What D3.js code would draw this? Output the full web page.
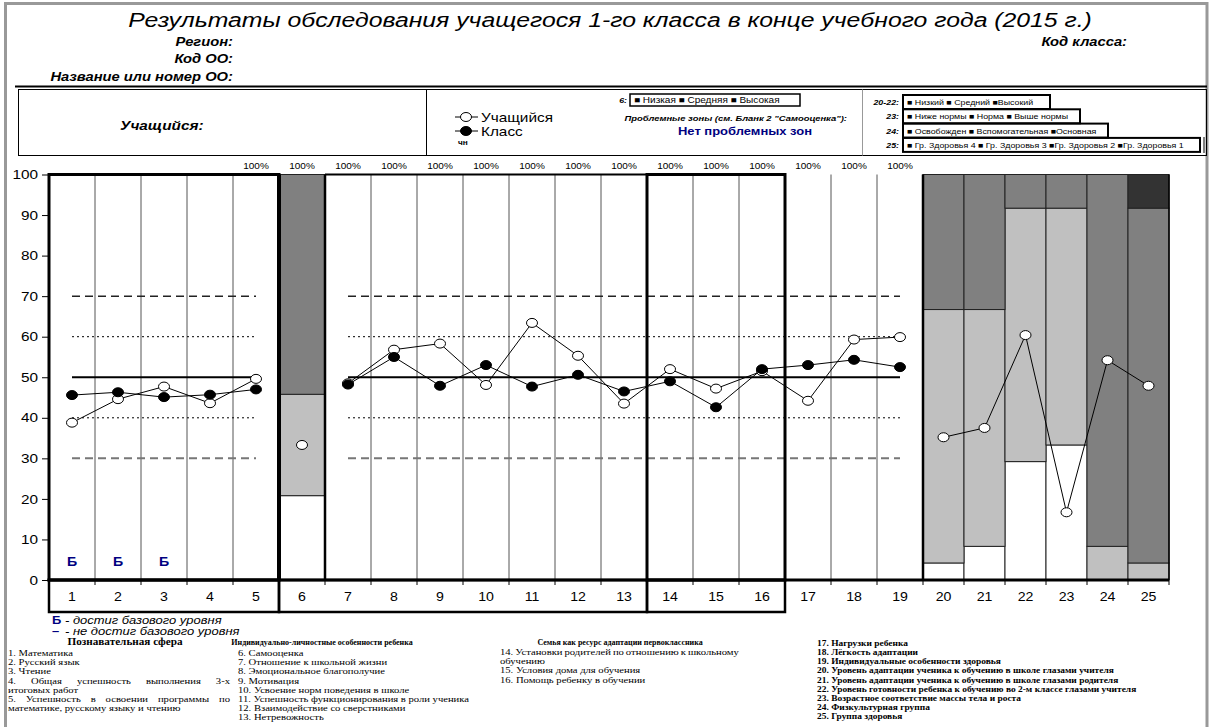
<!DOCTYPE html>
<html>
<head>
<meta charset="utf-8">
<script src="https://cdn.jsdelivr.net/npm/d3@7"></script>
<style>
  body { margin: 0; background: #fff; }
  svg { display: block; font-family: "Liberation Sans", Arial, sans-serif; }
  .serif { font-family: "Liberation Serif", "Times New Roman", serif; }
</style>
</head>
<body>
<svg id="chart" width="1213" height="727"></svg>
<script>
/* global d3 */

// ---- data ----
const categories = d3.range(1, 26).map(String);
const student = [38.8, 44.6, 47.7, 43.6, 49.6, 33.3, 48.5, 56.8, 58.3, 48.1, 63.4, 55.3, 43.5,
                 52.0, 47.2, 51.5, 44.2, 59.3, 59.9, 35.2, 37.5, 60.4, 16.7, 54.2, 47.9];
const klass = [45.6, 46.3, 45.1, 45.7, 47.0, null, 48.2, 55.0, 47.9, 53.0, 47.7, 50.6, 46.5,
               49.0, 42.6, 52.0, 53.0, 54.3, 52.5, null, null, null, null, null, null];
const baseMarks = ["Б", "Б", "Б", "", ""];
const pctLabels = ["", "", "", "", "100%", "100%", "100%", "100%", "100%", "100%", "100%", "100%",
                   "100%", "100%", "100%", "100%", "100%", "100%", "100%"];
// stacked percentage columns
const stackCols = [6, 20, 21, 22, 23, 24, 25];
const stackLow  = [20.8, 4.2, 8.3, 29.2, 33.3, 0, 0];
const stackMid  = [25.0, 62.5, 58.4, 62.5, 58.4, 8.3, 4.2];
const stackHigh = [54.2, 33.3, 33.3, 8.3, 8.3, 91.7, 87.5];
const stackTop  = [0, 0, 0, 0, 0, 0, 8.3];
const yTicks = d3.range(0, 101, 10);
const refLevels = [70, 60, 50, 40, 30];
const lineGroups = [[1, 5], [7, 19], [20, 25]];

const notes1 = ["1. Математика", "2. Русский язык", "3. Чтение",
  "4. Общая успешность выполнения 3-х|", "итоговых работ",
  "5. Успешность в освоении программы по|", "математике, русскому языку и чтению"];
const notes2 = ["6. Самооценка", "7. Отношение к школьной жизни", "8. Эмоциональное благополучие",
  "9. Мотивация", "10. Усвоение норм поведения в школе",
  "11. Успешность функционирования в роли ученика", "12. Взаимодействие со сверстниками",
  "13. Нетревожность"];
const notes3 = ["14. Установки родителей по отношению к школьному|", "обучению",
  "15. Условия дома для обучения", "16. Помощь ребенку в обучении"];
const notes4 = ["17. Нагрузки ребенка", "18. Лёгкость адаптации", "19. Индивидуальные особенности здоровья",
  "20. Уровень адаптации ученика к обучению в школе глазами учителя",
  "21. Уровень адаптации ученика к обучению в школе глазами родителя",
  "22. Уровень готовности ребенка к обучению во 2-м классе глазами учителя",
  "23. Возрастное соответствие  массы тела и роста", "24. Физкультурная группа", "25. Группа здоровья"];

// ---- setup ----
const svg = d3.select("#chart");
const K = 1.18; // text in the original is drawn a bit wide
const x = d3.scaleLinear().domain([0, 19, 25]).range([49, 923, 1169]);
const y = d3.scaleLinear().domain([0, 100]).range([580, 174.5]);
const cx = i => x(i - 0.5);
const greys = ["#ffffff", "#c0c0c0", "#808080", "#333333"];

// page frame
svg.append("path").attr("d", "M5.5,727 V3.5 H1207 V727")
  .attr("fill", "none").attr("stroke", "#999").attr("stroke-width", 3);

// ---- header ----
svg.append("text").attr("x", 610).attr("y", 27).attr("text-anchor", "middle")
  .style("font-size", "21px").style("font-style", "italic")
  .text("Результаты обследования учащегося 1-го класса в конце учебного года (2015 г.)");

const hdr = [["Регион:", 233, 46], ["Код ОО:", 233, 63], ["Название или номер ОО:", 233, 81], ["Код класса:", 1127, 46]];
svg.selectAll(".hdr").data(hdr).enter().append("text")
  .attr("x", d => d[1]).attr("y", d => d[2]).attr("text-anchor", "end")
  .style("font-size", "12.5px").style("font-weight", "bold").style("font-style", "italic")
  .text(d => d[0]);

svg.append("line").attr("x1", 15).attr("x2", 1207).attr("y1", 86.5).attr("y2", 86.5)
  .attr("stroke", "#000").attr("stroke-width", 2);
svg.append("rect").attr("x", 18.5).attr("y", 89.5).attr("width", 1188).attr("height", 66)
  .attr("fill", "none").attr("stroke", "#000").attr("stroke-width", 1);
svg.append("line").attr("x1", 426.5).attr("x2", 426.5).attr("y1", 89.5).attr("y2", 155.5)
  .attr("stroke", "#000");
svg.append("line").attr("x1", 862.5).attr("x2", 862.5).attr("y1", 89.5).attr("y2", 155.5)
  .attr("stroke", "#999");

svg.append("text").attr("x", 120).attr("y", 130)
  .style("font-size", "13px").style("font-weight", "bold").style("font-style", "italic")
  .text("Учащийся:");

// series legend
const lg = svg.append("g");
[[117, "#fff", "Учащийся"], [131, "#000", "Класс"]].forEach(d => {
  lg.append("line").attr("x1", 455).attr("x2", 478).attr("y1", d[0]).attr("y2", d[0]).attr("stroke", "#000");
  lg.append("ellipse").attr("cx", 466).attr("cy", d[0]).attr("rx", 5.5).attr("ry", 4.5)
    .attr("fill", d[1]).attr("stroke", "#000");
  lg.append("text").attr("x", 481).attr("y", d[0] + 4.5).style("font-size", "13px").text(d[2]);
});
lg.append("text").attr("x", 458).attr("y", 145).style("font-size", "7px").style("font-weight", "bold")
  .attr("fill", "#000").text("чн");

function smallText(xx, yy, txt, anchor, bold, size) {
  const t = svg.append("text").attr("x", xx).attr("y", yy).attr("text-anchor", anchor || "start")
    .style("font-size", (size || 7.5) + "px").text(txt);
  if (bold) t.style("font-weight", "bold").style("font-style", "italic");
  return t;
}
smallText(627, 103, "6:", "end", true);
svg.append("rect").attr("x", 630).attr("y", 94).attr("width", 170).attr("height", 12)
  .attr("fill", "none").attr("stroke", "#000").attr("stroke-width", 1.5);
smallText(634, 103, "■ Низкая ■ Средняя ■ Высокая", "start", false, 8.5);
smallText(847, 121, "Проблемные зоны (см. Бланк 2 \"Самооценка\"):", "end", true, 8);
svg.append("text").attr("x", 745).attr("y", 135).attr("text-anchor", "middle")
  .style("font-size", "11px").style("font-weight", "bold").attr("fill", "#000080")
  .text("Нет проблемных зон");

const keyRows = [["20-22:", "■ Низкий ■ Средний ■Высокий", 147],
                 ["23:", "■ Ниже нормы ■ Норма ■ Выше нормы", 177],
                 ["24:", "■ Освобожден ■ Вспомогательная ■Основная", 205],
                 ["25:", "■ Гр. Здоровья 4 ■ Гр. Здоровья 3 ■Гр. Здоровья 2 ■Гр. Здоровья 1", 297]];
keyRows.forEach((d, i) => {
  const top = 95 + i * 14.3;
  smallText(899, top + 10, d[0], "end", true);
  svg.append("rect").attr("x", 903).attr("y", top).attr("width", d[2]).attr("height", 14)
    .attr("fill", "none").attr("stroke", "#000").attr("stroke-width", 2);
  smallText(907, top + 10, d[1]);
});
svg.append("line").attr("x1", 1204).attr("x2", 1204).attr("y1", 137).attr("y2", 153).attr("stroke", "#000");

// ---- plot ----
const plot = svg.append("g");

// thin column separators
plot.selectAll(".grid").data(d3.range(1, 25)).enter().append("line")
  .attr("x1", d => x(d)).attr("x2", d => x(d)).attr("y1", y(100)).attr("y2", y(0))
  .attr("stroke", "#555").attr("stroke-width", 1);

// reference levels
function refStyle(sel, v) {
  if (v === 50) sel.attr("stroke", "#000").attr("stroke-width", 2);
  else if (v === 70) sel.attr("stroke", "#222").attr("stroke-width", 1.5).attr("stroke-dasharray", "8,5");
  else if (v === 30) sel.attr("stroke", "#777").attr("stroke-width", 2).attr("stroke-dasharray", "8,5");
  else sel.attr("stroke", "#000").attr("stroke-width", 1).attr("stroke-dasharray", "2,3");
}
refLevels.forEach(v => {
  [[1, 5], [7, 19]].forEach(g => {
    plot.append("line").attr("x1", cx(g[0])).attr("x2", cx(g[1]))
      .attr("y1", y(v)).attr("y2", y(v)).call(refStyle, v);
  });
});

// stacked columns
const stackData = stackCols.map((c, i) => ({ col: c, s0: stackLow[i], s1: stackMid[i], s2: stackHigh[i], s3: stackTop[i] }));
const series = d3.stack().keys(["s0", "s1", "s2", "s3"])(stackData);
series.forEach((s, k) => {
  plot.selectAll(".seg" + k).data(s.filter(d => d[1] - d[0] > 0)).enter().append("rect")
    .attr("x", d => x(d.data.col - 1)).attr("width", d => x(d.data.col) - x(d.data.col - 1))
    .attr("y", d => y(d[1])).attr("height", d => y(d[0]) - y(d[1]))
    .attr("fill", greys[k]).attr("stroke", "#222").attr("stroke-width", 1);
});

// thick group frames
const thick = (x1, y1, x2, y2, w) => plot.append("line").attr("x1", x1).attr("y1", y1)
  .attr("x2", x2).attr("y2", y2).attr("stroke", "#000").attr("stroke-width", w);
plot.append("rect").attr("x", x(0)).attr("y", y(100)).attr("width", x(5) - x(0)).attr("height", y(0) - y(100))
  .attr("fill", "none").attr("stroke", "#000").attr("stroke-width", 3);
thick(x(5), y(100), x(5), y(0), 4);
thick(x(6), y(100), x(6), y(0), 2.5);
thick(x(6), y(100), x(13), y(100), 2);
plot.append("rect").attr("x", x(13)).attr("y", y(100)).attr("width", x(16) - x(13)).attr("height", y(0) - y(100))
  .attr("fill", "none").attr("stroke", "#000").attr("stroke-width", 3);
thick(x(19), y(100), x(19), y(0), 2.5);
thick(x(25), y(100), x(25), y(0), 1.5);

// bottom axis and category strip
thick(x(0) - 1.5, y(0), x(25), y(0), 3);
plot.selectAll(".btick").data(d3.range(0, 26)).enter().append("line")
  .attr("x1", d => x(d)).attr("x2", d => x(d)).attr("y1", y(0)).attr("y2", y(0) + 5)
  .attr("stroke", "#000");
[[0, 5], [5, 13], [13, 16]].forEach(g => {
  plot.append("rect").attr("x", x(g[0])).attr("y", y(0)).attr("width", x(g[1]) - x(g[0])).attr("height", 32)
    .attr("fill", "none").attr("stroke", "#000").attr("stroke-width", 2.5);
});
plot.selectAll(".cat").data(categories).enter().append("text")
  .attr("x", (d, i) => cx(i + 1)).attr("y", 601).attr("text-anchor", "middle")
  .style("font-size", "12px").text(d => d);

// 100% labels
plot.selectAll(".pct").data(pctLabels).enter().append("text")
  .attr("x", (d, i) => cx(i + 1)).attr("y", y(100) - 6).attr("text-anchor", "middle")
  .style("font-size", "8.5px").text(d => d);

// y axis
const yAxis = d3.axisLeft(y).tickValues(yTicks).tickSize(7).tickPadding(4);
plot.append("g").attr("transform", `translate(${x(0)},0)`).call(yAxis)
  .call(g => g.select(".domain").remove())
  .call(g => g.selectAll("line").attr("stroke", "#000"))
  .call(g => g.selectAll("text").style("font-size", "13px").style("font-family", "'Liberation Sans', Arial, sans-serif").attr("fill", "#000"));

// base level marks
plot.selectAll(".base").data(baseMarks).enter().append("text")
  .attr("x", (d, i) => cx(i + 1)).attr("y", y(3.4)).attr("text-anchor", "middle")
  .style("font-size", "12px").style("font-weight", "bold").attr("fill", "#000080").text(d => d);

// series lines and markers
const line = d3.line().x(d => cx(d.i)).y(d => y(d.v));
function drawSeries(vals, fill) {
  const pts = vals.map((v, k) => ({ i: k + 1, v: v })).filter(d => d.v != null);
  lineGroups.forEach(g => {
    const seg = pts.filter(d => d.i >= g[0] && d.i <= g[1]);
    if (seg.length > 1) plot.append("path").attr("d", line(seg)).attr("fill", "none")
      .attr("stroke", "#000").attr("stroke-width", 1);
  });
  plot.selectAll(null).data(pts).enter().append("ellipse")
    .attr("cx", d => cx(d.i)).attr("cy", d => y(d.v)).attr("rx", 5.5).attr("ry", 4.5)
    .attr("fill", fill).attr("stroke", "#000").attr("stroke-width", 1);
}
drawSeries(student, "#fff");
drawSeries(klass, "#000");

// ---- footnotes ----
const leg = svg.append("g").style("font-size", "11px");
leg.append("text").attr("x", 52).attr("y", 624).attr("fill", "#000080").style("font-weight", "bold").text("Б");
leg.append("text").attr("x", 65).attr("y", 624).style("font-style", "italic").text("- достиг базового уровня");
leg.append("text").attr("x", 52).attr("y", 635).attr("fill", "#000080").style("font-weight", "bold").text("–");
leg.append("text").attr("x", 65).attr("y", 635).style("font-style", "italic").text("- не достиг базового уровня");

// stretch every text horizontally around its anchor point
svg.selectAll("text").each(function() {
  const t = d3.select(this);
  const tx = +t.attr("x") || 0, ty = +t.attr("y") || 0;
  t.attr("x", 0).attr("y", 0).attr("transform", `translate(${tx},${ty}) scale(${K},1)`);
});

// block headings: [text, centre, font size, horizontal scale]
const heads = [["Познавательная сфера", 125, 9.5, K],
               ["Индивидуально-личностные особенности ребенка", 322, 8, 1],
               ["Семья как ресурс адаптации первоклассника", 620, 8, 1]];
svg.selectAll(".head").data(heads).enter().append("text").attr("class", "serif")
  .attr("transform", d => `translate(${d[1]},645) scale(${d[3]},1)`).attr("text-anchor", "middle")
  .style("font-size", d => d[2] + "px").style("font-weight", "bold").text(d => d[0]);

function noteBlock(lines, x0, x1, y0, step, bold, size) {
  const g = svg.append("g").attr("class", "serif").style("font-size", size + "px");
  if (bold) g.style("font-weight", "bold");
  const put = (txt, xx, yy) => g.append("text")
    .attr("transform", `translate(${xx},${yy}) scale(${K},1)`).text(txt);
  lines.forEach((ln, k) => {
    const yy = y0 + k * step;
    if (ln.endsWith("|")) {
      const words = ln.slice(0, -1).split(" ");
      const nodes = words.map(w => put(w, 0, yy));
      const widths = nodes.map(n => n.node().getComputedTextLength() * K);
      const gap = Math.max(2, (x1 - x0 - d3.sum(widths)) / (words.length - 1));
      let xx = x0;
      nodes.forEach((n, j) => { n.attr("transform", `translate(${xx},${yy}) scale(${K},1)`); xx += widths[j] + gap; });
    } else {
      put(ln, x0, yy);
    }
  });
}
noteBlock(notes1, 8, 230, 656, 9.2, false, 9);
noteBlock(notes2, 238, 480, 656, 9.2, false, 9);
noteBlock(notes3, 500, 737, 655, 9.2, false, 9);
noteBlock(notes4, 817, 1170, 646, 9.15, true, 8);
</script>
</body>
</html>
